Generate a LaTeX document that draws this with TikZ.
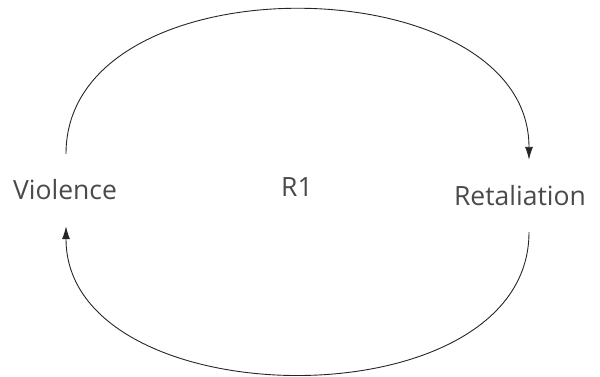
\documentclass[tikz,border=0pt]{standalone}
\usepackage{fontspec}
\setmainfont{Open Sans}
\usetikzlibrary{arrows.meta}
\definecolor{txt}{HTML}{4a4a4a}
\tikzset{
  var/.style={text=txt, font=\fontsize{26.5}{30}\selectfont, minimum height=72pt, inner sep=0pt},
  link/.style={draw=black!85, line width=0.9pt, -{Latex[length=13pt,width=8pt]}}
}
\begin{document}
\begin{tikzpicture}[x=1pt,y=-1pt]
\useasboundingbox (0,0) rectangle (600,376);
\node[var] (vio) at (65,190) {Violence};
\node[var] (ret) at (520,196) {Retaliation};
\node[var] (r1) at (297,187) {R1};
\draw[link] ([xshift=1pt]vio.north) .. controls +(0,-196) and +(0,-196) .. ([xshift=9pt]ret.north);
\draw[link] ([xshift=9pt]ret.south) .. controls +(0,193) and +(0,193) .. ([xshift=1pt]vio.south);
\end{tikzpicture}
\end{document}
